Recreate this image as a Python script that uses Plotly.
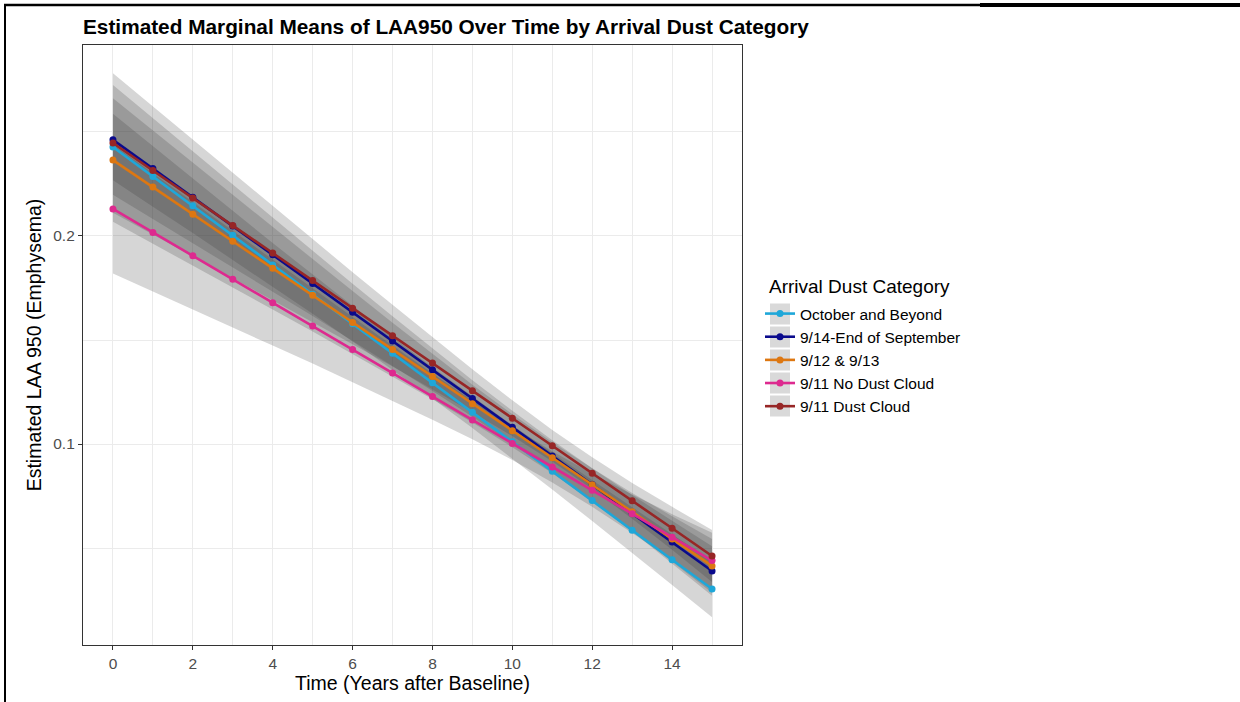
import plotly.graph_objects as go

years = list(range(16))

categories = ["October and Beyond", "9/14-End of September", "9/12 & 9/13",
              "9/11 No Dust Cloud", "9/11 Dust Cloud"]
colors = ["#1EA7D9", "#0A0A8C", "#DD7711", "#DD2A8F", "#972626"]

mean_october = [0.2428, 0.2286, 0.2145, 0.2003, 0.1861, 0.1720, 0.1578, 0.1436,
                0.1294, 0.1153, 0.1011, 0.0869, 0.0728, 0.0586, 0.0444, 0.0303]
mean_sept14 = [0.2462, 0.2324, 0.2186, 0.2048, 0.1910, 0.1772, 0.1633, 0.1495,
               0.1357, 0.1219, 0.1081, 0.0943, 0.0805, 0.0667, 0.0529, 0.0390]
mean_sept12 = [0.2365, 0.2235, 0.2105, 0.1975, 0.1845, 0.1715, 0.1584, 0.1454,
               0.1324, 0.1194, 0.1064, 0.0934, 0.0804, 0.0674, 0.0544, 0.0414]
mean_nodust = [0.2130, 0.2017, 0.1905, 0.1792, 0.1679, 0.1567, 0.1454, 0.1341,
               0.1228, 0.1116, 0.1003, 0.0890, 0.0778, 0.0665, 0.0552, 0.0440]
mean_dust = [0.2447, 0.2315, 0.2182, 0.2050, 0.1918, 0.1786, 0.1653, 0.1521,
             0.1389, 0.1256, 0.1124, 0.0992, 0.0860, 0.0727, 0.0595, 0.0462]

low_october = [0.2268, 0.2141, 0.2014, 0.1885, 0.1756, 0.1626, 0.1493, 0.1358,
               0.1219, 0.1077, 0.0931, 0.0781, 0.0630, 0.0477, 0.0322, 0.0167]
up_october = [0.2588, 0.2431, 0.2276, 0.2121, 0.1966, 0.1814, 0.1663, 0.1514,
              0.1369, 0.1229, 0.1091, 0.0957, 0.0826, 0.0695, 0.0566, 0.0439]
low_sept14 = [0.2198, 0.2082, 0.1966, 0.1849, 0.1732, 0.1615, 0.1496, 0.1376,
              0.1255, 0.1131, 0.1002, 0.0868, 0.0726, 0.0579, 0.0427, 0.0271]
up_sept14 = [0.2726, 0.2566, 0.2406, 0.2247, 0.2088, 0.1929, 0.1770, 0.1614,
             0.1459, 0.1307, 0.1160, 0.1018, 0.0884, 0.0755, 0.0631, 0.0509]
low_sept12 = [0.2068, 0.1963, 0.1858, 0.1753, 0.1647, 0.1541, 0.1433, 0.1325,
              0.1215, 0.1103, 0.0985, 0.0859, 0.0725, 0.0583, 0.0435, 0.0285]
up_sept12 = [0.2662, 0.2507, 0.2352, 0.2197, 0.2043, 0.1889, 0.1735, 0.1583,
             0.1433, 0.1285, 0.1143, 0.1009, 0.0883, 0.0765, 0.0653, 0.0543]
low_nodust = [0.1820, 0.1733, 0.1648, 0.1561, 0.1473, 0.1387, 0.1298, 0.1208,
              0.1117, 0.1023, 0.0923, 0.0815, 0.0698, 0.0572, 0.0441, 0.0307]
up_nodust = [0.2440, 0.2301, 0.2162, 0.2023, 0.1885, 0.1747, 0.1610, 0.1474,
             0.1339, 0.1209, 0.1083, 0.0965, 0.0858, 0.0758, 0.0663, 0.0573]
low_dust = [0.2112, 0.2008, 0.1902, 0.1797, 0.1692, 0.1587, 0.1480, 0.1373,
            0.1264, 0.1153, 0.1038, 0.0916, 0.0784, 0.0641, 0.0492, 0.0337]
up_dust = [0.2782, 0.2622, 0.2462, 0.2303, 0.2144, 0.1985, 0.1826, 0.1669,
           0.1514, 0.1359, 0.1210, 0.1068, 0.0936, 0.0813, 0.0698, 0.0587]

means = [mean_october, mean_sept14, mean_sept12, mean_nodust, mean_dust]
lows = [low_october, low_sept14, low_sept12, low_nodust, low_dust]
ups = [up_october, up_sept14, up_sept12, up_nodust, up_dust]

x_ticks = [0, 2, 4, 6, 8, 10, 12, 14]
y_ticks = [0.1, 0.2]
y_tick_labels = ["0.1", "0.2"]

fig = go.Figure()

# Confidence ribbons
for lo, hi in zip(lows, ups):
    fig.add_trace(go.Scatter(
        x=years + years[::-1], y=hi + lo[::-1],
        fill="toself", fillcolor="rgba(51,51,51,0.2)",
        line=dict(width=0), mode="lines", showlegend=False, hoverinfo="skip"))

for name, col, m in zip(categories, colors, means):
    fig.add_trace(go.Scatter(
        x=years, y=m, name=name, mode="lines+markers",
        line=dict(color=col, width=2.6),
        marker=dict(color=col, size=7)))

# Plot area geometry (pixels)
L, R, T, B = 83, 742, 45, 645
W, H = R - L, B - T


def px(xp):
    return (xp - L) / W


def py(yp):
    return (B - yp) / H


shapes = []
# legend key backgrounds
for yc in [314, 337, 360, 383, 406]:
    shapes.append(dict(type="rect", xref="paper", yref="paper",
                       x0=px(770), x1=px(790), y0=py(yc - 10.5), y1=py(yc + 10.5),
                       fillcolor="#D9D9D9", line=dict(width=0), layer="below"))
# outer frame lines
shapes.append(dict(type="line", xref="paper", yref="paper",
                   x0=px(5), x1=px(5), y0=py(4), y1=py(702),
                   line=dict(color="black", width=2)))
shapes.append(dict(type="line", xref="paper", yref="paper",
                   x0=px(4), x1=px(980), y0=py(5), y1=py(5),
                   line=dict(color="black", width=2.5)))
shapes.append(dict(type="line", xref="paper", yref="paper",
                   x0=px(980), x1=px(1240), y0=py(5), y1=py(5),
                   line=dict(color="black", width=4)))

annotations = [dict(text="Arrival Dust Category", xref="paper", yref="paper",
                    x=px(767), y=py(286), xanchor="left", yanchor="middle",
                    showarrow=False, font=dict(size=19, color="black"))]

fig.update_layout(
    width=1240, height=702,
    margin=dict(l=L, r=1240 - R, t=T, b=702 - B),
    paper_bgcolor="white", plot_bgcolor="white",
    font=dict(family="Liberation Sans, Arial, sans-serif", color="black"),
    title=dict(text="<b>Estimated Marginal Means of LAA950 Over Time by Arrival Dust Category</b>",
               x=px(83), xanchor="left", xref="paper",
               y=1 - 27 / 702, yanchor="middle", yref="container",
               font=dict(size=20.8, color="black")),
    xaxis=dict(range=[-0.75, 15.75], tickvals=x_ticks, ticktext=[str(v) for v in x_ticks],
               showgrid=True, gridcolor="#EBEBEB", gridwidth=1.1,
               minor=dict(dtick=1, tick0=0, showgrid=True, gridcolor="#EBEBEB", gridwidth=0.6),
               showline=True, mirror=True, linecolor="#333333", linewidth=1.2,
               ticks="outside", ticklen=4, tickcolor="#333333", tickwidth=1.1,
               zeroline=False,
               tickfont=dict(size=15.5, color="#4D4D4D"),
               title=dict(text="Time (Years after Baseline)", font=dict(size=19.5), standoff=5)),
    yaxis=dict(range=[0.0034, 0.2918], tickvals=y_ticks, ticktext=y_tick_labels,
               showgrid=True, gridcolor="#EBEBEB", gridwidth=1.1,
               minor=dict(dtick=0.05, tick0=0, showgrid=True, gridcolor="#EBEBEB", gridwidth=0.6),
               showline=True, mirror=True, linecolor="#333333", linewidth=1.2,
               ticks="outside", ticklen=4, tickcolor="#333333", tickwidth=1.1,
               zeroline=False,
               tickfont=dict(size=15.5, color="#4D4D4D"),
               title=dict(text="Estimated LAA 950 (Emphysema)", font=dict(size=19.5), standoff=6)),
    legend=dict(x=px(760), xanchor="left", y=py(297), yanchor="top",
                bgcolor="rgba(0,0,0,0)", itemwidth=30,
                font=dict(size=15.5, color="black")),
    shapes=shapes,
    annotations=annotations,
)

fig.write_html("out.html")
